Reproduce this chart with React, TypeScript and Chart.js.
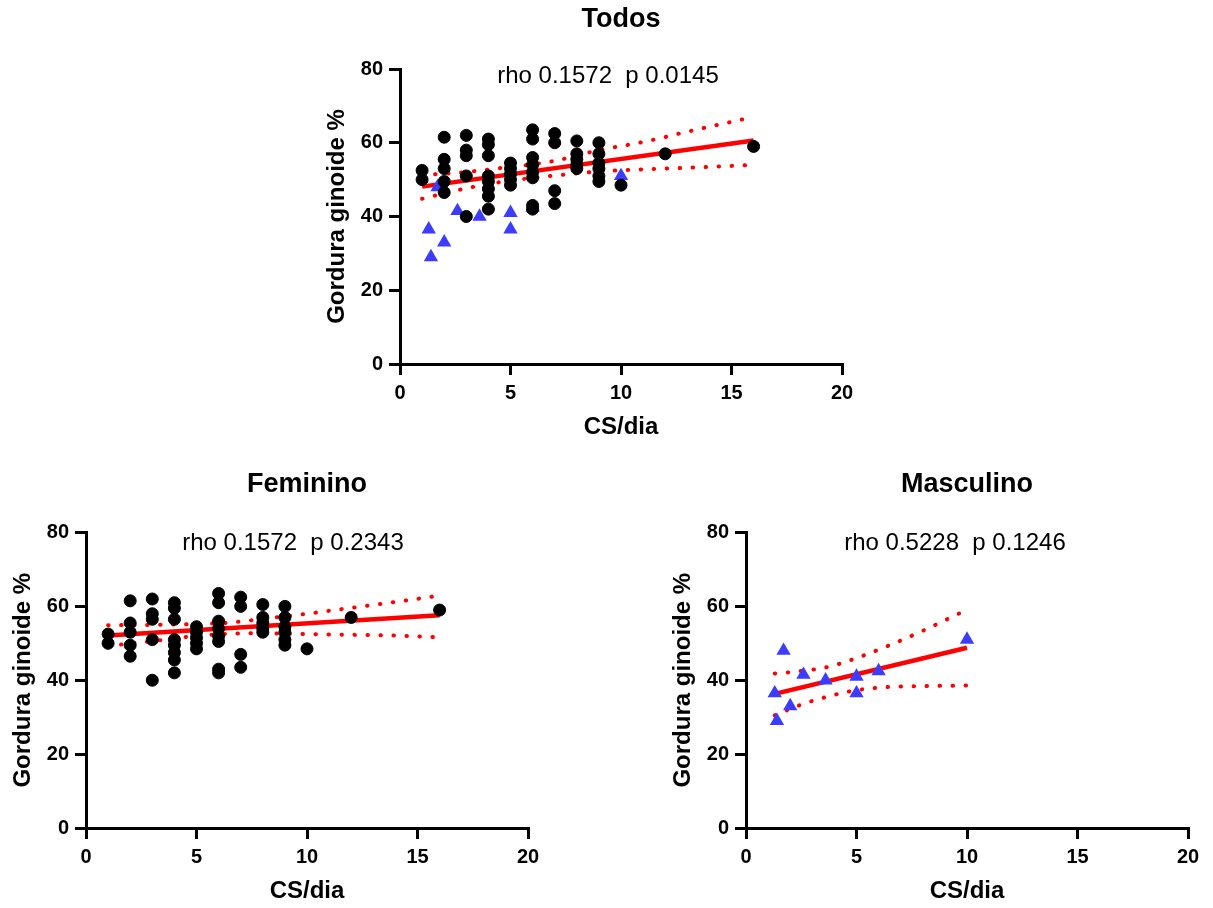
import React, { useEffect, useRef } from 'react';
import { Chart, registerables } from 'chart.js';

Chart.register(...registerables);

const FONT = '"Liberation Sans", Arial, Helvetica, sans-serif';

// ---------- text ----------
const panelTitles = ['Todos', 'Feminino', 'Masculino'];
const rhoNotes = ['rho 0.1572  p 0.0145', 'rho 0.1572  p 0.2343', 'rho 0.5228  p 0.1246'];
const xAxisTitle = 'CS/dia';
const yAxisTitle = 'Gordura ginoide %';

// ---------- axes ----------
const xMin = 0, xMax = 20, xStep = 5;
const yMin = 0, yMax = 80, yStep = 20;

// ---------- data: female (black circles) ----------
const femaleX = [1, 1, 2, 2, 2, 2, 2, 3, 3, 3, 3, 3, 4, 4, 4, 4, 4, 4, 4, 4, 5, 5, 5, 5, 5, 6, 6, 6, 6, 6, 6, 6, 6, 7, 7, 7, 7, 8, 8, 8, 8, 8, 9, 9, 9, 9, 9, 9, 10, 12, 16];
const femaleY = [52.5, 50, 61.5, 55.5, 53, 49.5, 46.5, 62, 58, 56.5, 51, 40, 61, 59.5, 56.5, 51, 49.5, 47.5, 45.5, 42, 54.5, 53, 51.5, 50, 48.5, 63.5, 61, 56, 54, 52, 50.5, 43, 42, 62.5, 60, 47, 43.5, 60.5, 57, 55.5, 54, 53, 60, 57, 54.5, 53, 51, 49.5, 48.5, 57, 59];

// ---------- data: male (blue triangles) ----------
const maleX = [1.3, 1.4, 1.7, 2, 2.6, 3.6, 5, 5, 6, 10];
const maleY = [36.5, 29, 48, 33, 41.5, 40, 41, 36.5, 42.5, 51];

// ---------- regression lines ----------
const fitAllX = [1, 16];
const fitAllY = [48.1, 60.6];
const fitFemX = [1, 16];
const fitFemY = [52.1, 57.6];
const fitMalX = [1.3, 10];
const fitMalY = [36.3, 48.8];

// ---------- 95% bands ----------
const bandAllX = [1, 2.5, 4.5, 7, 9, 11, 13, 16];
const bandAllUp = [51.3, 51.8, 53.1, 55.1, 58.0, 60.2, 63.0, 67.0];
const bandAllLo = [44.8, 47.0, 49.3, 51.1, 52.2, 52.8, 53.2, 54.0];

const bandFemX = [1, 3, 5, 6.5, 8, 10, 12, 14, 16];
const bandFemUp = [54.9, 55.0, 55.2, 55.6, 56.6, 58.0, 59.6, 61.2, 62.9];
const bandFemLo = [49.3, 50.6, 52.0, 52.6, 52.7, 52.5, 52.3, 52.1, 51.6];

const bandMalX = [1.3, 2.5, 3.7, 5, 6.5, 8, 10];
const bandMalUp = [41.8, 42.5, 43.6, 46.0, 49.5, 53.4, 59.1];
const bandMalLo = [30.5, 33.4, 35.6, 37.3, 38.2, 38.4, 38.6];

// ---------- styles ----------
const RED = '#ff0000';
const BLUE = '#3c3cff';
const BLACK = '#000000';

const toPts = (xs: number[], ys: number[]) => xs.map((x, i) => ({ x, y: ys[i] }));

const notePlugin = {
  id: 'rhoNote',
  afterDraw(chart: any, _args: any, opts: any) {
    const { ctx, chartArea } = chart;
    ctx.save();
    ctx.font = `24px ${FONT}`;
    ctx.fillStyle = BLACK;
    ctx.textAlign = 'center';
    ctx.textBaseline = 'middle';
    ctx.fillText(opts.text, (chartArea.left + chartArea.right) / 2 + opts.dx, chartArea.top + opts.dy);
    ctx.restore();
  },
};

type PanelDef = {
  left: number;
  top: number;
  height: number;
  idx: number;
  titlePadTop: number;
  titlePadBottom: number;
  female: boolean;
  male: boolean;
  fit: [number[], number[]];
  band: [number[], number[], number[]];
  noteDx: number;
  noteDy: number;
};

const AXIS_W = 86;
const X_AXIS_H = 80;
const CANVAS_W = AXIS_W * 2 + 442;

function buildConfig(p: PanelDef): any {
  const tickFont = { family: FONT, size: 20, weight: 'bold' as const };
  const axisTitleFont = { family: FONT, size: 24, weight: 'bold' as const };
  const datasets: any[] = [];
  const bandStyle = {
    showLine: true,
    pointRadius: 0,
    borderColor: RED,
    borderWidth: 4,
    borderDash: [0.5, 12.5],
    borderCapStyle: 'round',
    cubicInterpolationMode: 'monotone',
    fill: false,
    order: 4,
  };
  datasets.push({ label: 'upper', data: toPts(p.band[0], p.band[1]), ...bandStyle });
  datasets.push({ label: 'lower', data: toPts(p.band[0], p.band[2]), ...bandStyle });
  datasets.push({
    label: 'fit',
    data: toPts(p.fit[0], p.fit[1]),
    showLine: true,
    pointRadius: 0,
    borderColor: RED,
    borderWidth: 4.5,
    fill: false,
    order: 3,
  });
  if (p.male) {
    datasets.push({
      label: 'Masculino',
      data: toPts(maleX, maleY),
      pointStyle: 'triangle',
      pointRadius: 8.3,
      pointBackgroundColor: BLUE,
      pointBorderColor: BLUE,
      pointBorderWidth: 0,
      order: 2,
    });
  }
  if (p.female) {
    datasets.push({
      label: 'Feminino',
      data: toPts(femaleX, femaleY),
      pointStyle: 'circle',
      pointRadius: 6,
      pointBackgroundColor: BLACK,
      pointBorderColor: BLACK,
      pointBorderWidth: 1,
      order: 1,
    });
  }
  return {
    type: 'scatter',
    data: { datasets },
    plugins: [notePlugin],
    options: {
      animation: false,
      responsive: false,
      devicePixelRatio: 1,
      layout: { padding: 0 },
      plugins: {
        legend: { display: false },
        tooltip: { enabled: false },
        title: {
          display: true,
          text: panelTitles[p.idx],
          color: BLACK,
          font: { family: FONT, size: 27, weight: 'bold', lineHeight: 1.2 },
          padding: { top: p.titlePadTop, bottom: p.titlePadBottom },
        },
        rhoNote: { text: rhoNotes[p.idx], dx: p.noteDx, dy: p.noteDy },
      },
      scales: {
        x: {
          type: 'linear',
          position: 'bottom',
          min: xMin,
          max: xMax,
          ticks: { stepSize: xStep, font: tickFont, color: BLACK, padding: 6, maxRotation: 0 },
          grid: { display: true, drawOnChartArea: false, drawTicks: true, tickLength: 11, lineWidth: 3, color: BLACK },
          border: { display: true, width: 3, color: BLACK },
          title: { display: true, text: xAxisTitle, color: BLACK, font: { ...axisTitleFont, lineHeight: 1.2 }, padding: { top: 0, bottom: 2 } },
          afterFit: (s: any) => { s.height = X_AXIS_H; },
        },
        y: {
          type: 'linear',
          position: 'left',
          min: yMin,
          max: yMax,
          ticks: { stepSize: yStep, font: tickFont, color: BLACK, padding: 6 },
          grid: { display: true, drawOnChartArea: false, drawTicks: true, tickLength: 11, lineWidth: 3, color: BLACK },
          border: { display: true, width: 3, color: BLACK },
          title: { display: true, text: yAxisTitle, color: BLACK, font: { ...axisTitleFont, lineHeight: 1.2 }, padding: { top: 8.6, bottom: 0 } },
          afterFit: (s: any) => { s.width = AXIS_W; },
        },
        yPad: {
          type: 'linear',
          position: 'right',
          display: true,
          grid: { display: false },
          border: { display: false },
          ticks: { display: false },
          afterFit: (s: any) => { s.width = AXIS_W; },
        },
      },
    },
  };
}

const panels: PanelDef[] = [
  {
    left: 400 - AXIS_W, top: 0, height: 444, idx: 0,
    titlePadTop: 3.8, titlePadBottom: 32.8,
    female: true, male: true,
    fit: [fitAllX, fitAllY], band: [bandAllX, bandAllUp, bandAllLo],
    noteDx: -13, noteDy: 7.5,
  },
  {
    left: 86 - AXIS_W, top: 460, height: 447.5, idx: 1,
    titlePadTop: 8.8, titlePadBottom: 31.3,
    female: true, male: false,
    fit: [fitFemX, fitFemY], band: [bandFemX, bandFemUp, bandFemLo],
    noteDx: -14, noteDy: 10.5,
  },
  {
    left: 746 - AXIS_W, top: 460, height: 447.5, idx: 2,
    titlePadTop: 8.8, titlePadBottom: 31.3,
    female: false, male: true,
    fit: [fitMalX, fitMalY], band: [bandMalX, bandMalUp, bandMalLo],
    noteDx: -12, noteDy: 10.5,
  },
];

function Panel({ def }: { def: PanelDef }) {
  const ref = useRef<HTMLCanvasElement>(null);
  useEffect(() => {
    if (!ref.current) return;
    const chart = new Chart(ref.current, buildConfig(def));
    return () => chart.destroy();
  }, [def]);
  return (
    <div style={{ position: 'absolute', left: def.left, top: def.top, width: CANVAS_W, height: def.height }}>
      <canvas ref={ref} width={CANVAS_W} height={Math.round(def.height)} style={{ display: 'block', width: CANVAS_W, height: Math.round(def.height) }} />
    </div>
  );
}

export default function App() {
  return (
    <div style={{ position: 'absolute', left: 0, top: 0, width: 1213, height: 908, overflow: 'hidden', background: '#ffffff' }}>
      {panels.map((p) => (
        <Panel key={p.idx} def={p} />
      ))}
    </div>
  );
}
